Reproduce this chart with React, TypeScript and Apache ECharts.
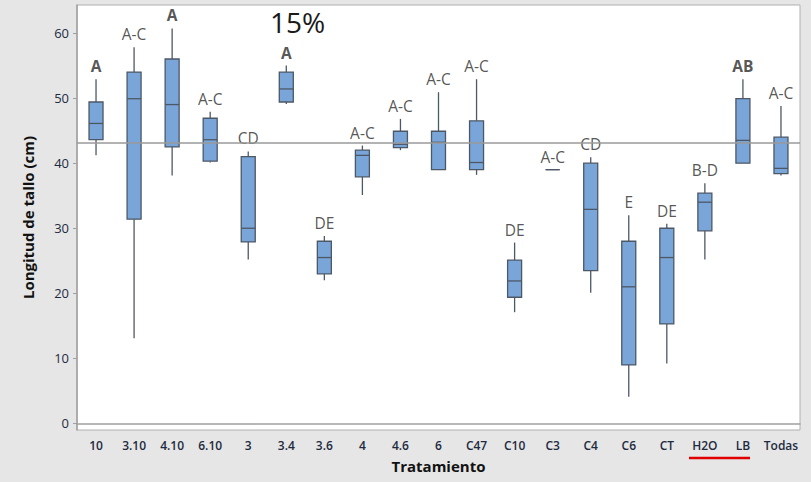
import React, { useEffect, useRef } from "react";
import * as echarts from "echarts";

const categories = ["10", "3.10", "4.10", "6.10", "3", "3.4", "3.6", "4", "4.6", "6", "C47", "C10", "C3", "C4", "C6", "CT", "H2O", "LB", "Todas"];
// [min, Q1, median, Q3, max]
const boxValues: number[][] = [
  [41.2, 43.6, 46.1, 49.4, 52.9],
  [13.1, 31.4, 49.9, 54.0, 57.8],
  [38.1, 42.5, 49.0, 56.0, 60.7],
  [40.1, 40.3, 43.6, 46.9, 47.9],
  [25.2, 27.9, 30.0, 41.0, 41.8],
  [49.1, 49.4, 51.4, 54.0, 55.0],
  [22.0, 23.0, 25.5, 28.0, 28.8],
  [35.1, 37.9, 41.2, 42.0, 42.7],
  [42.0, 42.4, 42.9, 44.9, 46.8],
  [39.0, 39.0, 43.2, 44.9, 50.9],
  [38.2, 39.0, 40.1, 46.5, 52.9],
  [17.1, 19.4, 21.9, 25.1, 27.8],
  [39.0, 39.0, 39.0, 39.0, 39.0],
  [20.1, 23.5, 32.9, 40.0, 40.9],
  [4.1, 9.0, 21.0, 28.0, 32.0],
  [9.2, 15.3, 25.5, 30.0, 30.7],
  [25.2, 29.6, 34.0, 35.4, 36.9],
  [40.0, 40.0, 43.5, 49.9, 52.9],
  [38.1, 38.4, 39.2, 44.0, 48.8],
];
const groupLetters = ["A", "A-C", "A", "A-C", "CD", "A", "DE", "A-C", "A-C", "A-C", "A-C", "DE", "A-C", "CD", "E", "DE", "B-D", "AB", "A-C"];
const boldLetters = ["A", "AB"];
const overallMean = 43.2;
const yTicks = [0, 10, 20, 30, 40, 50, 60];
const annotation = "15%";

export default function App() {
  const ref = useRef<HTMLDivElement>(null);
  useEffect(() => {
    document.body.style.margin = "0";
    const chart = echarts.init(ref.current!, null, { renderer: "svg" });
    const font = "'Open Sans', 'Noto Sans', sans-serif";
    const boxColor = "#7aa5d9";
    const edge = "#4c5866";
    chart.setOption({
      animation: false,
      backgroundColor: "#e6e6e6",
      textStyle: { fontFamily: font },
      title: {
        text: annotation,
        left: 265,
        top: 3,
        textStyle: { fontSize: 28, fontWeight: "normal", color: "#1a1a1a", fontFamily: font },
      },
      grid: {
        left: 77,
        right: 11,
        top: 5,
        bottom: 52,
        show: true,
        backgroundColor: "#ffffff",
        borderColor: "#b0b0b0",
        borderWidth: 1,
      },
      xAxis: {
        type: "category",
        data: categories,
        name: "Tratamiento",
        nameLocation: "middle",
        nameGap: 28,
        nameTextStyle: { fontSize: 15, fontWeight: "bold", color: "#111", fontFamily: font },
        axisLine: { lineStyle: { color: "#a0a0a0", width: 1.5 } },
        axisTick: { alignWithLabel: true, length: 4, lineStyle: { color: "#a0a0a0" } },
        axisLabel: { fontSize: 12, fontWeight: 600, color: "#1e2a40", margin: 9, interval: 0 },
        splitLine: { show: false },
      },
      yAxis: {
        type: "value",
        min: -1,
        max: 64.3,
        name: "Longitud de tallo (cm)",
        nameLocation: "middle",
        nameGap: 42,
        nameTextStyle: { fontSize: 15, fontWeight: "bold", color: "#111", fontFamily: font },
        axisLine: { show: true, lineStyle: { color: "#a0a0a0", width: 1.5 } },
        axisTick: { show: true, length: 4, customValues: yTicks, lineStyle: { color: "#a0a0a0" } },
        axisLabel: { fontSize: 13, color: "#1e2a40", margin: 8, customValues: yTicks },
        splitLine: { show: false },
      },
      series: [
        {
          type: "custom",
          data: boxValues.map((b, i) => [i, ...b]),
          encode: { x: 0, y: [1, 2, 3, 4, 5] },
          renderItem: (params: any, api: any) => {
            const i = api.value(0);
            const [x, yMin] = api.coord([i, api.value(1)]);
            const yQ1 = api.coord([i, api.value(2)])[1];
            const yMed = api.coord([i, api.value(3)])[1];
            const yQ3 = api.coord([i, api.value(4)])[1];
            const yMax = api.coord([i, api.value(5)])[1];
            const half = 7;
            const lineStyle = { stroke: edge, lineWidth: 1.3 };
            return {
              type: "group",
              children: [
                { type: "line", shape: { x1: x, y1: yMax, x2: x, y2: yQ3 }, style: lineStyle },
                { type: "line", shape: { x1: x, y1: yQ1, x2: x, y2: yMin }, style: lineStyle },
                {
                  type: "rect",
                  shape: { x: x - half, y: yQ3, width: half * 2, height: yQ1 - yQ3 },
                  style: { fill: boxColor, stroke: edge, lineWidth: 1.3 },
                },
                { type: "line", shape: { x1: x - half, y1: yMed, x2: x + half, y2: yMed }, style: lineStyle },
              ],
            };
          },
          markLine: {
            silent: true,
            symbol: "none",
            label: { show: false },
            lineStyle: { color: "#9a9a9a", width: 1.5, type: "solid" },
            data: [{ yAxis: overallMean }],
          },
          z: 2,
        },
        {
          type: "scatter",
          symbolSize: 0,
          silent: true,
          data: boxValues.map((b, i) => ({
            value: [i, b[4]],
            label: {
              show: true,
              position: "top",
              distance: 5,
              formatter: groupLetters[i],
              fontSize: 15.5,
              fontWeight: boldLetters.includes(groupLetters[i]) ? "bold" : "normal",
              color: "#2a2a2a",
              fontFamily: font,
            },
          })),
        },
      ],
      graphic: [
        {
          type: "line",
          shape: { x1: 689, y1: 458, x2: 750, y2: 458 },
          style: { stroke: "#e00000", lineWidth: 2.5 },
        },
      ],
    });
    return () => chart.dispose();
  }, []);
  return <div ref={ref} style={{ width: 811, height: 482, position: "fixed", left: 0, top: 0 }} />;
}
